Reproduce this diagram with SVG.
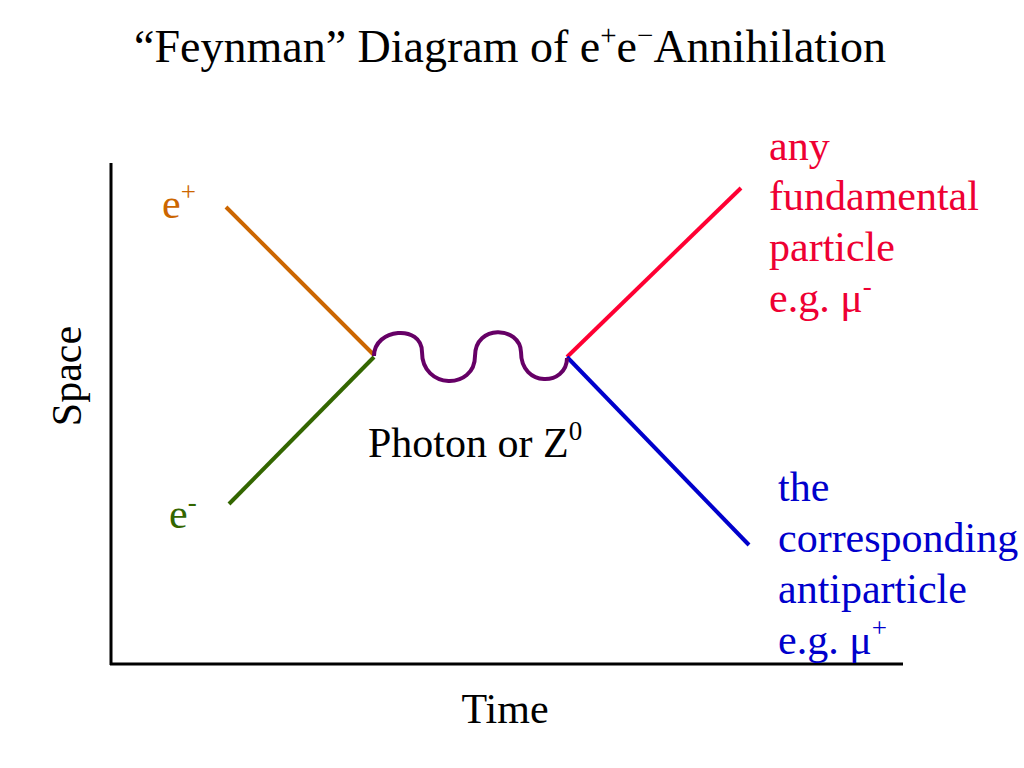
<svg xmlns="http://www.w3.org/2000/svg" width="1024" height="768" viewBox="0 0 1024 768">
<style>
text{font-family:"Liberation Serif","Times New Roman",serif;font-size:42px;fill:#000}
.title{font-size:46px}
.tsup{font-size:29px}
.sup{font-size:27px}
.ln{fill:none;stroke-width:4;stroke-linecap:butt}
.axis{fill:none;stroke:#000;stroke-width:3}
.red{fill:#EE0033}
.blue{fill:#0000CC}
</style>
<rect width="1024" height="768" fill="#fff"/>
<g id="title"><text class="title" x="510" y="62" text-anchor="middle">“Feynman” Diagram of e<tspan class="tsup" dy="-17">+</tspan><tspan dy="17">e</tspan><tspan class="tsup" dy="-17">−</tspan><tspan dy="17">Annihilation</tspan></text></g>
<g id="axes">
<path class="axis" d="M111,163 V665 M110,664 H903"/>
<text x="81" y="376" text-anchor="middle" transform="rotate(-90 81 376)">Space</text>
<text x="505" y="723" text-anchor="middle">Time</text>
</g>
<g id="connectors">
<line id="e-plus-line" class="ln" x1="226" y1="207" x2="374" y2="355" stroke="#CC6600"/>
<line id="e-minus-line" class="ln" x1="229" y1="504" x2="374" y2="357" stroke="#336600"/>
<line id="particle-line" class="ln" x1="567" y1="357" x2="741" y2="188" stroke="#FF0033"/>
<line id="antiparticle-line" class="ln" x1="567" y1="357" x2="749" y2="545" stroke="#0000CC"/>
<path id="photon" class="ln" stroke="#660066" stroke-width="5" d="M374,356 C374,328 422,324 422,352 C422,390 475,390 475,356 C475,324 520,326 521,352 C521,388 567,386 567,358"/>
</g>
<g id="e-plus"><text x="162" y="218" style="fill:#CC6600">e<tspan class="sup" dy="-17">+</tspan></text></g>
<g id="e-minus"><text x="169" y="528" style="fill:#336600">e<tspan class="sup" dy="-17">-</tspan></text></g>
<g id="boson"><text x="368" y="457">Photon or Z<tspan class="sup" dy="-17">0</tspan></text></g>
<g id="particle">
<text class="red" x="769" y="160">any</text>
<text class="red" x="769" y="210">fundamental</text>
<text class="red" x="769" y="261">particle</text>
<text class="red" x="769" y="312">e.g. μ<tspan class="sup" dy="-17">-</tspan></text>
</g>
<g id="antiparticle">
<text class="blue" x="778" y="501">the</text>
<text class="blue" x="778" y="552">corresponding</text>
<text class="blue" x="778" y="603">antiparticle</text>
<text class="blue" x="778" y="654">e.g. μ<tspan class="sup" dy="-17">+</tspan></text>
</g>
</svg>
